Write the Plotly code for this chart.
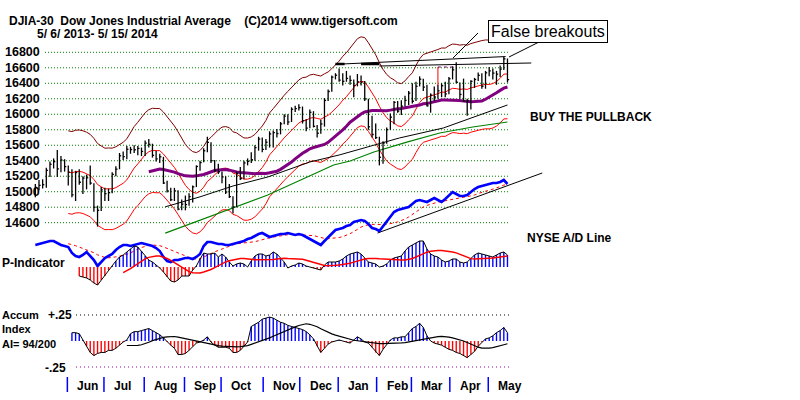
import numpy as np
import pandas as pd
import plotly.graph_objects as go

# ---------------- data ----------------
start_date = "2013-05-06"
end_date = "2014-05-15"
nyse_holidays = ["2013-05-27", "2013-07-04", "2013-09-02", "2013-11-28", "2013-12-25",
                 "2014-01-01", "2014-01-20", "2014-02-17", "2014-04-18"]
month_labels = ["Jun", "Jul", "Aug", "Sep", "Oct", "Nov", "Dec", "Jan", "Feb", "Mar", "Apr", "May"]
price_ticks = [14600, 14800, 15000, 15200, 15400, 15600, 15800, 16000, 16200, 16400, 16600, 16800]

# two-day bars (DJIA)
bar_high = [15100, 15150, 15160, 15310, 15390, 15430, 15540, 15460, 15420, 15340,
            15290, 15270, 15290, 15200, 15220, 15340, 15110, 14820, 15060, 15050,
            15040, 15250, 15330, 15500, 15520, 15590, 15580, 15600, 15590, 15570,
            15660, 15680, 15620, 15530, 15490, 15450, 15140, 15050, 15050, 15020,
            14900, 14950, 14980, 15080, 15340, 15400, 15560, 15710, 15640, 15410,
            15360, 15260, 15200, 15100, 14940, 15260, 15320, 15400, 15430, 15510,
            15600, 15710, 15700, 15680, 15780, 15790, 15810, 15900, 16000, 16000,
            16090, 16110, 16130, 16100, 15940, 16060, 16040, 15860, 15930, 16210,
            16320, 16500, 16530, 16590, 16530, 16560, 16500, 16450, 16520, 16500,
            16430, 16200, 15980, 15880, 15710, 15650, 15830, 16010, 16170, 16170,
            16180, 16240, 16300, 16400, 16420, 16490, 16460, 16380, 16270, 16360,
            16380, 16400, 16420, 16480, 16620, 16670, 16410, 16460, 16200, 16440,
            16470, 16540, 16530, 16560, 16610, 16590, 16560, 16630, 16740, 16720]
bar_low = [14930, 15020, 15040, 15050, 15190, 15300, 15190, 15250, 15260, 15080,
           14930, 14880, 15090, 14970, 15030, 15090, 14740, 14550, 14750, 14880,
           14880, 14980, 15200, 15290, 15410, 15420, 15490, 15500, 15470, 15460,
           15460, 15570, 15440, 15390, 15370, 15100, 14990, 14880, 14880, 14760,
           14760, 14760, 14820, 14860, 15060, 15270, 15380, 15510, 15370, 15250,
           15230, 15110, 14970, 14920, 14720, 14800, 15150, 15160, 15340, 15370,
           15400, 15530, 15510, 15540, 15570, 15570, 15700, 15740, 15870, 15860,
           15900, 16030, 16050, 15880, 15780, 15820, 15830, 15700, 15750, 15840,
           16170, 16290, 16450, 16420, 16370, 16420, 16380, 16220, 16360, 16370,
           16170, 15800, 15700, 15680, 15340, 15360, 15620, 15800, 15870, 16020,
           15990, 16100, 16120, 16140, 16170, 16360, 16300, 16100, 16020, 16170,
           16200, 16220, 16220, 16260, 16450, 16400, 16200, 16160, 15980, 16060,
           16340, 16430, 16330, 16330, 16490, 16450, 16380, 16480, 16570, 16410]
bar_close = [15056, 15082, 15091, 15275, 15354, 15388, 15294, 15409, 15324, 15254,
             14960, 15248, 15122, 15176, 15180, 15112, 14800, 14760, 15024, 14975,
             14988, 15225, 15291, 15464, 15452, 15548, 15545, 15542, 15559, 15520,
             15628, 15612, 15470, 15425, 15451, 15112, 15010, 14897, 15010, 14776,
             14840, 14834, 14937, 15063, 15326, 15376, 15529, 15636, 15401, 15273,
             15258, 15191, 14996, 14936, 14803, 15237, 15168, 15371, 15392, 15413,
             15570, 15680, 15546, 15639, 15746, 15762, 15751, 15876, 15976, 15900,
             16064, 16073, 16086, 15915, 15821, 16025, 15844, 15755, 15875, 16179,
             16294, 16479, 16504, 16441, 16425, 16463, 16437, 16374, 16418, 16415,
             16198, 15838, 15739, 15699, 15445, 15629, 15802, 15964, 16154, 16041,
             16104, 16179, 16273, 16168, 16361, 16453, 16351, 16109, 16247, 16223,
             16303, 16368, 16264, 16458, 16573, 16413, 16256, 16171, 16174, 16425,
             16449, 16502, 16361, 16535, 16559, 16531, 16518, 16584, 16715, 16447]

# NYSE A/D line (arbitrary units)
ad_line = [5, 6, 7, 8, 9, 9, 7, 5, 4, 3,
           -3, -6, -7, -5, -2, -6, -10, -16, -12, -8,
           -6, -4, 0, 3, 5, 5, 4, 5, 6, 7,
           6, 5, 4, 2, -1, -7, -11, -12, -10, -10,
           -9, -8, -8, -9, -7, -4, 4, 8, 8, 7,
           6, 6, 5, 5, 6, 7, 8, 9, 11, 12,
           14, 16, 17, 15, 13, 14, 15, 16, 16, 17,
           16, 15, 16, 15, 13, 11, 9, 7, 5, 9,
           13, 17, 20, 21, 22, 24, 25, 28, 29, 30,
           29, 26, 22, 21, 19, 24, 29, 33, 38, 40,
           41, 42, 43, 46, 49, 50, 49, 48, 50, 52,
           50, 48, 51, 55, 58, 56, 54, 54, 55, 58,
           61, 63, 64, 65, 66, 67, 67, 68, 70, 66]

# P-Indicator
p_indicator = [None] * 12 + [
    -9, -10, -11, -13, -16, -18, -13, -9,
    -3, 1, 6, 10, 12, 15, 18, 21, 20, 16,
    11, 7, 5, 2, -1, -5, -10, -14, -15, -13,
    -9, -9, -9, -3, 1, 8, 14, 13, 13, 14,
    10, 13, 10, 5, 1, 3, 4, 3, 0, 6,
    11, 13, 13, 11, 12, 15, 13, 9, 5, -1,
    1, 2, 4, 3, 1, 0, -1, -2, -3, 2,
    5, 5, 5, 6, 8, 11, 13, 14, 15, 13,
    9, 5, 4, 3, 0, 1, 3, 7, 9, 10,
    11, 16, 20, 22, 24, 26, 26, 18, 13, 11,
    10, 7, 5, 6, 8, 8, 5, 4, 5, 9,
    12, 14, 13, 12, 11, 10, 12, 14, 15, 12]

# Accumulation Index
accum_index = [None] * 10 + [
    0.08, 0.08, 0.07, 0.01, -0.05, -0.11, -0.14, -0.12, -0.11, -0.11,
    -0.09, -0.09, -0.07, -0.04, -0.01, 0.01, 0.07, 0.09, 0.09, 0.10,
    0.11, 0.12, 0.10, 0.08, 0.06, 0.03, -0.01, -0.04, -0.07, -0.13,
    -0.13, -0.12, -0.09, -0.05, -0.02, -0.01, 0.01, 0.04, -0.01, -0.04,
    -0.06, -0.06, -0.06, -0.07, -0.11, -0.11, -0.09, -0.05, -0.01, 0.14,
    0.16, 0.18, 0.21, 0.22, 0.23, 0.22, 0.20, 0.18, 0.17, 0.15,
    0.14, 0.13, 0.12, 0.11, 0.09, 0.06, 0.02, -0.05, -0.11, -0.07,
    -0.03, -0.01, 0.00, 0.01, 0.00, -0.01, -0.02, 0.01, 0.04, 0.02,
    -0.01, -0.02, -0.06, -0.11, -0.14, -0.08, -0.03, 0.01, 0.03, 0.03,
    0.04, 0.04, 0.08, 0.12, 0.14, 0.17, 0.13, 0.05, 0.00, -0.02,
    -0.03, -0.04, -0.06, -0.08, -0.09, -0.11, -0.12, -0.14, -0.16, -0.13,
    -0.10, -0.05, -0.01, 0.02, 0.03, 0.05, 0.08, 0.10, 0.13, 0.08]

# long moving averages (trading-day index, value)
black_ma_day = [72, 91, 109, 128, 151, 167, 200, 224, 259]
black_ma_val = [14805, 14934, 15074, 15190, 15384, 15474, 15694, 15823, 16120]
green_ma_day = [72, 91, 109, 128, 146, 164, 173, 186, 204, 222, 240, 259]
green_ma_val = [14466, 14634, 14789, 14957, 15151, 15345, 15397, 15513, 15640, 15758, 15836, 15900]

# hand-drawn lines (trading-day index, value)
top_line_day = [165, 258]
top_line_val = [16645, 16745]
flat_line_day = [189, 272]
flat_line_val = [16623, 16662]
top_marks_day = [[165, 170], [179, 189]]
top_marks_val = 16649
ad_trend_day = [188, 278]
ad_trend_val = [17, 77]

# ---------------- geometry ----------------
W, H = 800, 400
X0, DX = 33.5, 1.83          # pixel of day 0, pixels per trading day


def vrange(v_a, px_a, v_b, px_b):
    s = (v_b - v_a) / (px_b - px_a)
    return [v_a + s * (H - px_a), v_a - s * px_a]


x_range = [-X0 / DX, (W - X0) / DX]
price_rng = vrange(16800, 52.3, 14600, 222.7)
ad_rng = vrange(0, 250, 100, 150)
p_rng = vrange(0, 267, 100, 167)
ai_rng = vrange(0.25, 315, -0.25, 367)

days = pd.bdate_range(start_date, end_date)
days = days[~days.isin(pd.to_datetime(nyse_holidays))]
month_start = [i for i in range(1, len(days)) if days[i].month != days[i - 1].month]

n = len(bar_close)
bx = [2 * k + 1 for k in range(n)]

closes = pd.Series(bar_close, dtype=float)
ma21 = closes.rolling(10).mean()
upper = ma21 * 1.035
lower = ma21 * 0.965
ma65 = closes.rolling(32).mean()
ad_ma = pd.Series(ad_line, dtype=float).rolling(10).mean()
p_s = pd.Series(p_indicator, dtype=float)
p_ma = p_s.rolling(13).mean()
ai_s = pd.Series(accum_index, dtype=float)
ai_ma = ai_s.rolling(16).mean()

fig = go.Figure()


def line(x, y, color, width=1, axis="y", dash=None, mode="lines"):
    fig.add_trace(go.Scatter(x=list(x), y=list(y), mode=mode, yaxis=axis,
                             line=dict(color=color, width=width, dash=dash),
                             hoverinfo="skip", connectgaps=False))


# price studies
line(bx, upper, "#800000", 1)
line(bx, lower, "#FF0000", 1)
line(bx, ma21, "#FF0000", 1)
line(black_ma_day, black_ma_val, "black", 1)
line(green_ma_day, green_ma_val, "#008000", 1.2)
line(bx, ma65, "#800080", 3)

# price bars
hx, hy, cx, cy = [], [], [], []
for x, h, l, c in zip(bx, bar_high, bar_low, bar_close):
    hx += [x, x, None]
    hy += [l, h, None]
    cx += [x, x + 0.9, None]
    cy += [c, c, None]
line(hx, hy, "black", 1.3)
line(cx, cy, "black", 1.3)

# resistance lines
line(top_line_day, top_line_val, "black", 1)
line(flat_line_day, flat_line_val, "black", 1)
for seg in top_marks_day:
    line(seg, [top_marks_val] * 2, "black", 2.5)

# A/D line
line(bx, ad_ma, "#FF0000", 1, axis="y2", dash="dot")
line(ad_trend_day, ad_trend_val, "black", 1, axis="y2")
line(bx, ad_line, "#0000FF", 2.6, axis="y2")

# P-Indicator
pcol = ["#0000FF" if (v is not None and v >= 0) else "#FF0000" for v in p_indicator]
fig.add_trace(go.Bar(x=bx, y=p_indicator, yaxis="y3", width=0.75, marker=dict(color=pcol, line=dict(width=0)),
                     hoverinfo="skip"))
line(bx, p_s, "black", 1, axis="y3")
line(bx, p_ma, "#FF0000", 1.5, axis="y3")

# Accumulation index
acol = ["#0000FF" if (v is not None and v >= 0) else "#FF0000" for v in accum_index]
fig.add_trace(go.Bar(x=bx, y=accum_index, yaxis="y4", width=0.75, marker=dict(color=acol, line=dict(width=0)),
                     hoverinfo="skip"))
line(bx, ai_s, "black", 1, axis="y4")
line(bx, ai_ma, "black", 1.2, axis="y4")

# ---------------- layout decorations ----------------
FONT = "Liberation Sans, Arial, sans-serif"
shapes = []
annotations = []


def px(x):
    return x / W


def py(y):
    return 1 - y / H


for lv in price_ticks:
    shapes.append(dict(type="line", xref="paper", yref="y", x0=px(45), x1=px(510), y0=lv, y1=lv,
                       line=dict(color="#008000", width=1, dash="1px,2px"), layer="below"))
    annotations.append(dict(xref="paper", yref="y", x=px(4), y=lv, text=f"<b>{lv}</b>", showarrow=False,
                            xanchor="left", yanchor="middle", borderpad=0,
                            font=dict(family=FONT, size=12.5, color="black")))

for lv, col in [(0.25, "black"), (-0.25, "#A000A0")]:
    shapes.append(dict(type="line", xref="paper", yref="y4", x0=px(76), x1=px(510), y0=lv, y1=lv,
                       line=dict(color=col, width=1, dash="1px,3px"), layer="below"))

for i, lab in zip(month_start, month_labels):
    shapes.append(dict(type="line", xref="x", yref="paper", x0=i - 0.5, x1=i - 0.5, y0=py(392), y1=py(377),
                       line=dict(color="#0000FF", width=1.5)))
    annotations.append(dict(xref="x", yref="paper", x=i, y=py(386), text=f"<b>{lab}</b>", showarrow=False,
                            xanchor="left", yanchor="middle", xshift=8, borderpad=0,
                            font=dict(family=FONT, size=12, color="black")))

# red marker and dotted line near the March high
shapes.append(dict(type="line", xref="x", yref="y", x0=221, x1=221, y0=16370, y1=16610,
                   line=dict(color="#FF0000", width=1)))
shapes.append(dict(type="line", xref="x", yref="y", x0=221, x1=230, y0=16610, y1=16610,
                   line=dict(color="#800080", width=1, dash="dot")))

# callout lines
for (xa, ya, xb, yb) in [(478, 33, 453, 58), (543, 40, 509, 57)]:
    shapes.append(dict(type="line", xref="paper", yref="paper", x0=px(xa), y0=py(ya), x1=px(xb), y1=py(yb),
                       line=dict(color="black", width=1)))


def text(x, y, s, size=12, anchor="left"):
    annotations.append(dict(xref="paper", yref="paper", x=px(x), y=py(y), text=s, showarrow=False,
                            xanchor=anchor, yanchor="middle", borderpad=0, align="left",
                            font=dict(family=FONT, size=size, color="black")))


S = "\u00a0"
text(8, 20.5, f"<b>DJIA-30{S*2}Dow Jones Industrial Average{S*4}(C)2014 www.tigersoft.com</b>", 12)
text(36, 34.5, f"<b>5/{S}6/{S}2013-{S}5/{S}15/{S}2014</b>", 12)
text(529, 117, "<b>BUY THE PULLBACK</b>", 12)
text(526, 238, "<b>NYSE A/D Line</b>", 12)
text(1, 263, "<b>P-Indicator</b>", 12)
text(1, 329, "<b>Accum<br>Index<br>AI= 94/200</b>", 11)
text(47, 315, "<b>+.25</b>", 12)
text(44, 368, "<b>-.25</b>", 12)
annotations.append(dict(xref="paper", yref="paper", x=px(548), y=py(31), text="False breakouts", showarrow=False,
                        xanchor="center", yanchor="middle", bordercolor="black", borderwidth=1, borderpad=2,
                        bgcolor="white", font=dict(family=FONT, size=16, color="black")))

fig.update_layout(
    width=W, height=H, margin=dict(l=0, r=0, t=0, b=0, pad=0),
    paper_bgcolor="white", plot_bgcolor="white", showlegend=False, barmode="overlay",
    xaxis=dict(range=x_range, visible=False, fixedrange=True),
    yaxis=dict(range=price_rng, visible=False, fixedrange=True),
    yaxis2=dict(range=ad_rng, visible=False, overlaying="y", fixedrange=True),
    yaxis3=dict(range=p_rng, visible=False, overlaying="y", fixedrange=True),
    yaxis4=dict(range=ai_rng, visible=False, overlaying="y", fixedrange=True),
    shapes=shapes, annotations=annotations,
)

fig.write_html("out.html", config={"displayModeBar": False, "staticPlot": True},
               post_script="document.body.style.margin='0';")
